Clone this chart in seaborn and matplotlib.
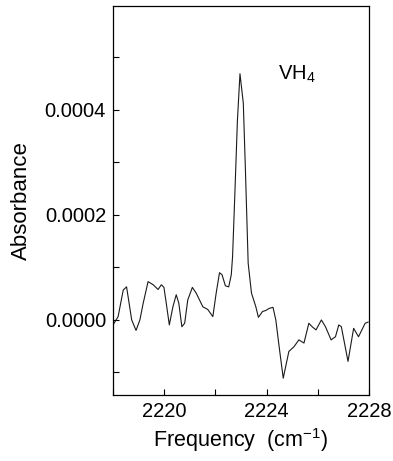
import matplotlib
matplotlib.use("Agg")
import matplotlib.pyplot as plt
import seaborn as sns
import pandas as pd
from matplotlib.ticker import MultipleLocator

frequency = [2218.0, 2218.2, 2218.4, 2218.53, 2218.73, 2218.9, 2219.05, 2219.18, 2219.37,
             2219.57, 2219.76, 2219.89, 2219.99, 2220.08, 2220.2, 2220.34, 2220.47, 2220.57,
             2220.69, 2220.8, 2220.92, 2221.1, 2221.25, 2221.51, 2221.7, 2221.9, 2222.03,
             2222.16, 2222.26, 2222.39, 2222.52, 2222.62, 2222.67, 2222.76, 2222.86, 2222.96,
             2223.09, 2223.17, 2223.28, 2223.41, 2223.58, 2223.68, 2223.84, 2223.97, 2224.1,
             2224.25, 2224.36, 2224.49, 2224.65, 2224.77, 2224.87, 2225.07, 2225.26, 2225.46,
             2225.65, 2225.78, 2225.93, 2226.14, 2226.3, 2226.52, 2226.69, 2226.82, 2226.92,
             2227.18, 2227.4, 2227.59, 2227.85, 2227.97]
absorbance = [-0.0000095, 0.0000063, 0.000057, 0.000063, 0.0, -0.00002, 0.0, 0.000032, 0.000073,
              0.000067, 0.000058, 0.000067, 0.000062, 0.000032, -0.0000095, 0.000025, 0.000048, 0.000032,
              -0.000013, -0.0000063, 0.000038, 0.000062, 0.000051, 0.000025, 0.00002, 0.0000063, 0.000051,
              0.00009, 0.000086, 0.000065, 0.000063, 0.000086, 0.00012, 0.00024, 0.00038, 0.000469,
              0.000413, 0.00029, 0.000108, 0.000051, 0.000025, 0.000005, 0.000016, 0.000018, 0.000022,
              0.000024, 0.0, -0.000051, -0.000111, -0.000083, -0.00006, -0.000051, -0.000038, -0.000044,
              -0.0000063, -0.000013, -0.000019, 0.0, -0.000013, -0.000038, -0.000032, -0.0000095, -0.000013,
              -0.000079, -0.000016, -0.000032, -0.0000063, -0.000004]

x_ticks = [2220, 2224, 2228]
x_tick_labels = ["2220", "2224", "2228"]
y_ticks = [0.0, 0.0002, 0.0004]
y_tick_labels = ["0.0000", "0.0002", "0.0004"]

df = pd.DataFrame({"Frequency": frequency, "Absorbance": absorbance})

sns.set_style("ticks")
plt.rcParams['font.family'] = ['Liberation Sans', 'DejaVu Sans']
plt.rcParams['mathtext.fontset'] = 'custom'
plt.rcParams['mathtext.rm'] = 'Liberation Sans'
plt.rcParams['mathtext.it'] = 'Liberation Sans'
plt.rcParams['text.color'] = 'black'
plt.rcParams['axes.labelcolor'] = 'black'
plt.rcParams['xtick.color'] = 'black'
plt.rcParams['ytick.color'] = 'black'

fig = plt.figure(figsize=(3.93, 4.61), dpi=100)
ax = fig.add_axes([113/393, 66/461, 256/393, 389/461])

sns.lineplot(data=df, x="Frequency", y="Absorbance", ax=ax, color="#1a1a1a", linewidth=0.8)

ax.set_xlim(2218, 2228)
ax.set_ylim(-0.000143, 0.000598)
ax.xaxis.set_minor_locator(MultipleLocator(2))
ax.yaxis.set_minor_locator(MultipleLocator(0.0001))
ax.set_xticks(x_ticks)
ax.set_xticklabels(x_tick_labels)
ax.set_yticks(y_ticks)
ax.set_yticklabels(y_tick_labels)

ax.tick_params(which='both', direction='in', length=4, width=0.8, labelsize=14.5, pad=5,
               colors='black')
for s in ax.spines.values():
    s.set_linewidth(0.9)
    s.set_color('black')

ax.set_xlabel("Frequency  (cm$^{\\mathrm{-1}}$)", fontsize=15.5, labelpad=4)
ax.set_ylabel("Absorbance", fontsize=16, labelpad=9)
ax.text(2224.45, 0.000467, "VH$_4$", fontsize=14.5, va='center', ha='left')

fig.savefig("out.png", dpi=100)
